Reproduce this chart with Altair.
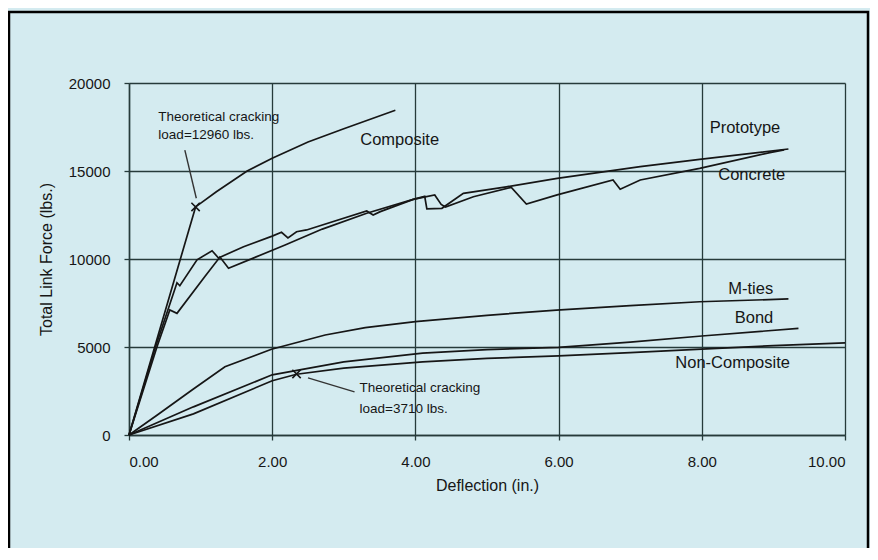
import altair as alt
import pandas as pd

# ---------------- data ----------------
composite_x = [0, 0.93, 1.22, 1.65, 2.0, 2.5, 3.0, 3.72]
composite_y = [0, 12960, 13820, 15000, 15720, 16650, 17400, 18450]

prototype_x = [0, 0.37, 0.67, 0.71, 0.95, 1.16, 1.25, 1.6, 2.0, 2.13, 2.22, 2.34, 2.48,
               3.32, 3.41, 3.51, 3.97, 4.13, 4.16, 4.37, 4.67, 5.27, 5.98, 7.14, 7.97, 9.21]
prototype_y = [0, 5000, 8650, 8480, 9950, 10470, 10060, 10700, 11300, 11520, 11200, 11550, 11650,
               12730, 12500, 12690, 13390, 13560, 12850, 12880, 13730, 14100, 14580, 15250, 15660, 16250]

concrete_x = [0, 0.39, 0.57, 0.67, 1.06, 1.27, 1.39, 2.18, 2.7, 3.32, 3.97, 4.27, 4.36, 4.42,
              4.81, 5.34, 5.55, 5.98, 6.76, 6.86, 7.14, 7.97, 8.95, 9.15]
concrete_y = [0, 5000, 7100, 6910, 9000, 10110, 9470, 10800, 11700, 12600, 13390, 13640, 13100, 12950,
              13540, 14070, 13120, 13640, 14490, 13960, 14490, 15150, 16040, 16200]

mties_x = [0, 0.4, 0.88, 1.34, 1.99, 2.74, 3.3, 4.0, 5.0, 5.97, 7.0, 7.97, 9.21]
mties_y = [0, 1150, 2560, 3880, 4870, 5680, 6100, 6440, 6800, 7100, 7350, 7570, 7730]

bond_x = [0, 0.9, 2.0, 3.0, 4.1, 5.0, 6.0, 7.0, 8.0, 9.35]
bond_y = [0, 1600, 3420, 4150, 4650, 4850, 4980, 5280, 5625, 6060]

noncomp_x = [0, 0.9, 2.0, 2.34, 3.0, 4.1, 5.0, 6.0, 7.0, 8.0, 9.0, 10.0]
noncomp_y = [0, 1200, 3080, 3450, 3800, 4150, 4350, 4500, 4680, 4880, 5080, 5240]

marker_x = [0.93, 2.34]
marker_y = [12960, 3470]

pointer_x = [0.78, 2.50]
pointer_y = [16190, 3250]
pointer_x2 = [0.94, 3.15]
pointer_y2 = [13450, 2450]

curve_labels = ["Composite", "Prototype", "Concrete", "M-ties", "Bond", "Non-Composite"]
curve_label_x = [3.23, 8.11, 8.23, 8.37, 8.46, 7.63]
curve_label_y = [16760, 17430, 14770, 8280, 6630, 4070]

note_lines = ["Theoretical cracking", "load=12960 lbs.", "Theoretical cracking", "load=3710 lbs."]
note_x = [0.41, 0.41, 3.22, 3.22]
note_y = [18050, 17050, 2650, 1460]

x_ticks = [0, 2, 4, 6, 8, 10]
y_ticks = [0, 5000, 10000, 15000, 20000]

# ---------------- tables ----------------
series = [("Composite", composite_x, composite_y),
          ("Prototype", prototype_x, prototype_y),
          ("Concrete", concrete_x, concrete_y),
          ("M-ties", mties_x, mties_y),
          ("Bond", bond_x, bond_y),
          ("Non-Composite", noncomp_x, noncomp_y)]
rows = []
for name, xs, ys in series:
    for i, (xv, yv) in enumerate(zip(xs, ys)):
        rows.append({"series": name, "x": xv, "y": yv, "order": i})
lines_df = pd.DataFrame(rows)
markers_df = pd.DataFrame({"x": marker_x, "y": marker_y})
pointers_df = pd.DataFrame({"x": pointer_x, "y": pointer_y, "x2": pointer_x2, "y2": pointer_y2})
labels_df = pd.DataFrame({"t": curve_labels, "x": curve_label_x, "y": curve_label_y})
notes_df = pd.DataFrame({"t": note_lines, "x": note_x, "y": note_y})

FONT = "Liberation Sans"
INK = "#161616"
GRID = "#263a3a"

xscale = alt.Scale(domain=[0, 10], nice=False, zero=False)
yscale = alt.Scale(domain=[0, 20000], nice=False)

x_axis = alt.Axis(title="Deflection (in.)", values=x_ticks, format=".2f",
                  labelFontSize=15, titleFontSize=16, labelPadding=14, titlePadding=8)
y_axis = alt.Axis(title="Total Link Force (lbs.)", values=y_ticks, format="d",
                  labelFontSize=15, titleFontSize=16, labelPadding=14, titlePadding=14)

frame = alt.Chart(pd.DataFrame({"a": [0]})).mark_rect(
    fillOpacity=0, stroke="#000000", strokeWidth=2.5, clip=False
).encode(x=alt.value(-120), x2=alt.value(739), y=alt.value(-71), y2=alt.value(620))

lines = alt.Chart(lines_df).mark_line(color=INK, strokeWidth=1.7).encode(
    x=alt.X("x:Q", scale=xscale, axis=x_axis),
    y=alt.Y("y:Q", scale=yscale, axis=y_axis),
    detail="series:N",
    order="order:Q",
)

markers = alt.Chart(markers_df).mark_point(
    shape="M-1,-1L1,1M1,-1L-1,1", size=70, filled=False, stroke=INK, strokeWidth=1.6, opacity=1
).encode(x=alt.X("x:Q", scale=xscale), y=alt.Y("y:Q", scale=yscale))

pointers = alt.Chart(pointers_df).mark_rule(color="#333333", strokeWidth=1.4).encode(
    x=alt.X("x:Q", scale=xscale), y=alt.Y("y:Q", scale=yscale), x2="x2:Q", y2="y2:Q"
)

labels = alt.Chart(labels_df).mark_text(
    align="left", baseline="middle", font=FONT, fontSize=16.5, color=INK
).encode(x=alt.X("x:Q", scale=xscale), y=alt.Y("y:Q", scale=yscale), text="t:N")

notes = alt.Chart(notes_df).mark_text(
    align="left", baseline="middle", font=FONT, fontSize=13.5, color=INK
).encode(x=alt.X("x:Q", scale=xscale), y=alt.Y("y:Q", scale=yscale), text="t:N")

chart = alt.layer(frame, lines, pointers, markers, labels, notes).properties(
    width=716, height=352,
    autosize=alt.AutoSizeParams(type="none"),
    padding={"left": 121, "top": 75, "right": 25, "bottom": 113},
    background="#d4ebf0",
).configure_view(stroke=None).configure_axis(
    labelFont=FONT, titleFont=FONT, labelColor=INK, titleColor=INK, titleFontWeight="normal",
    gridColor=GRID, gridWidth=1.3, gridOpacity=1, domainColor=GRID, domainWidth=1.5,
    tickColor=GRID, tickSize=5, tickWidth=1.3,
)

chart.save("out.html", embed_options={"renderer": "svg", "actions": False})
